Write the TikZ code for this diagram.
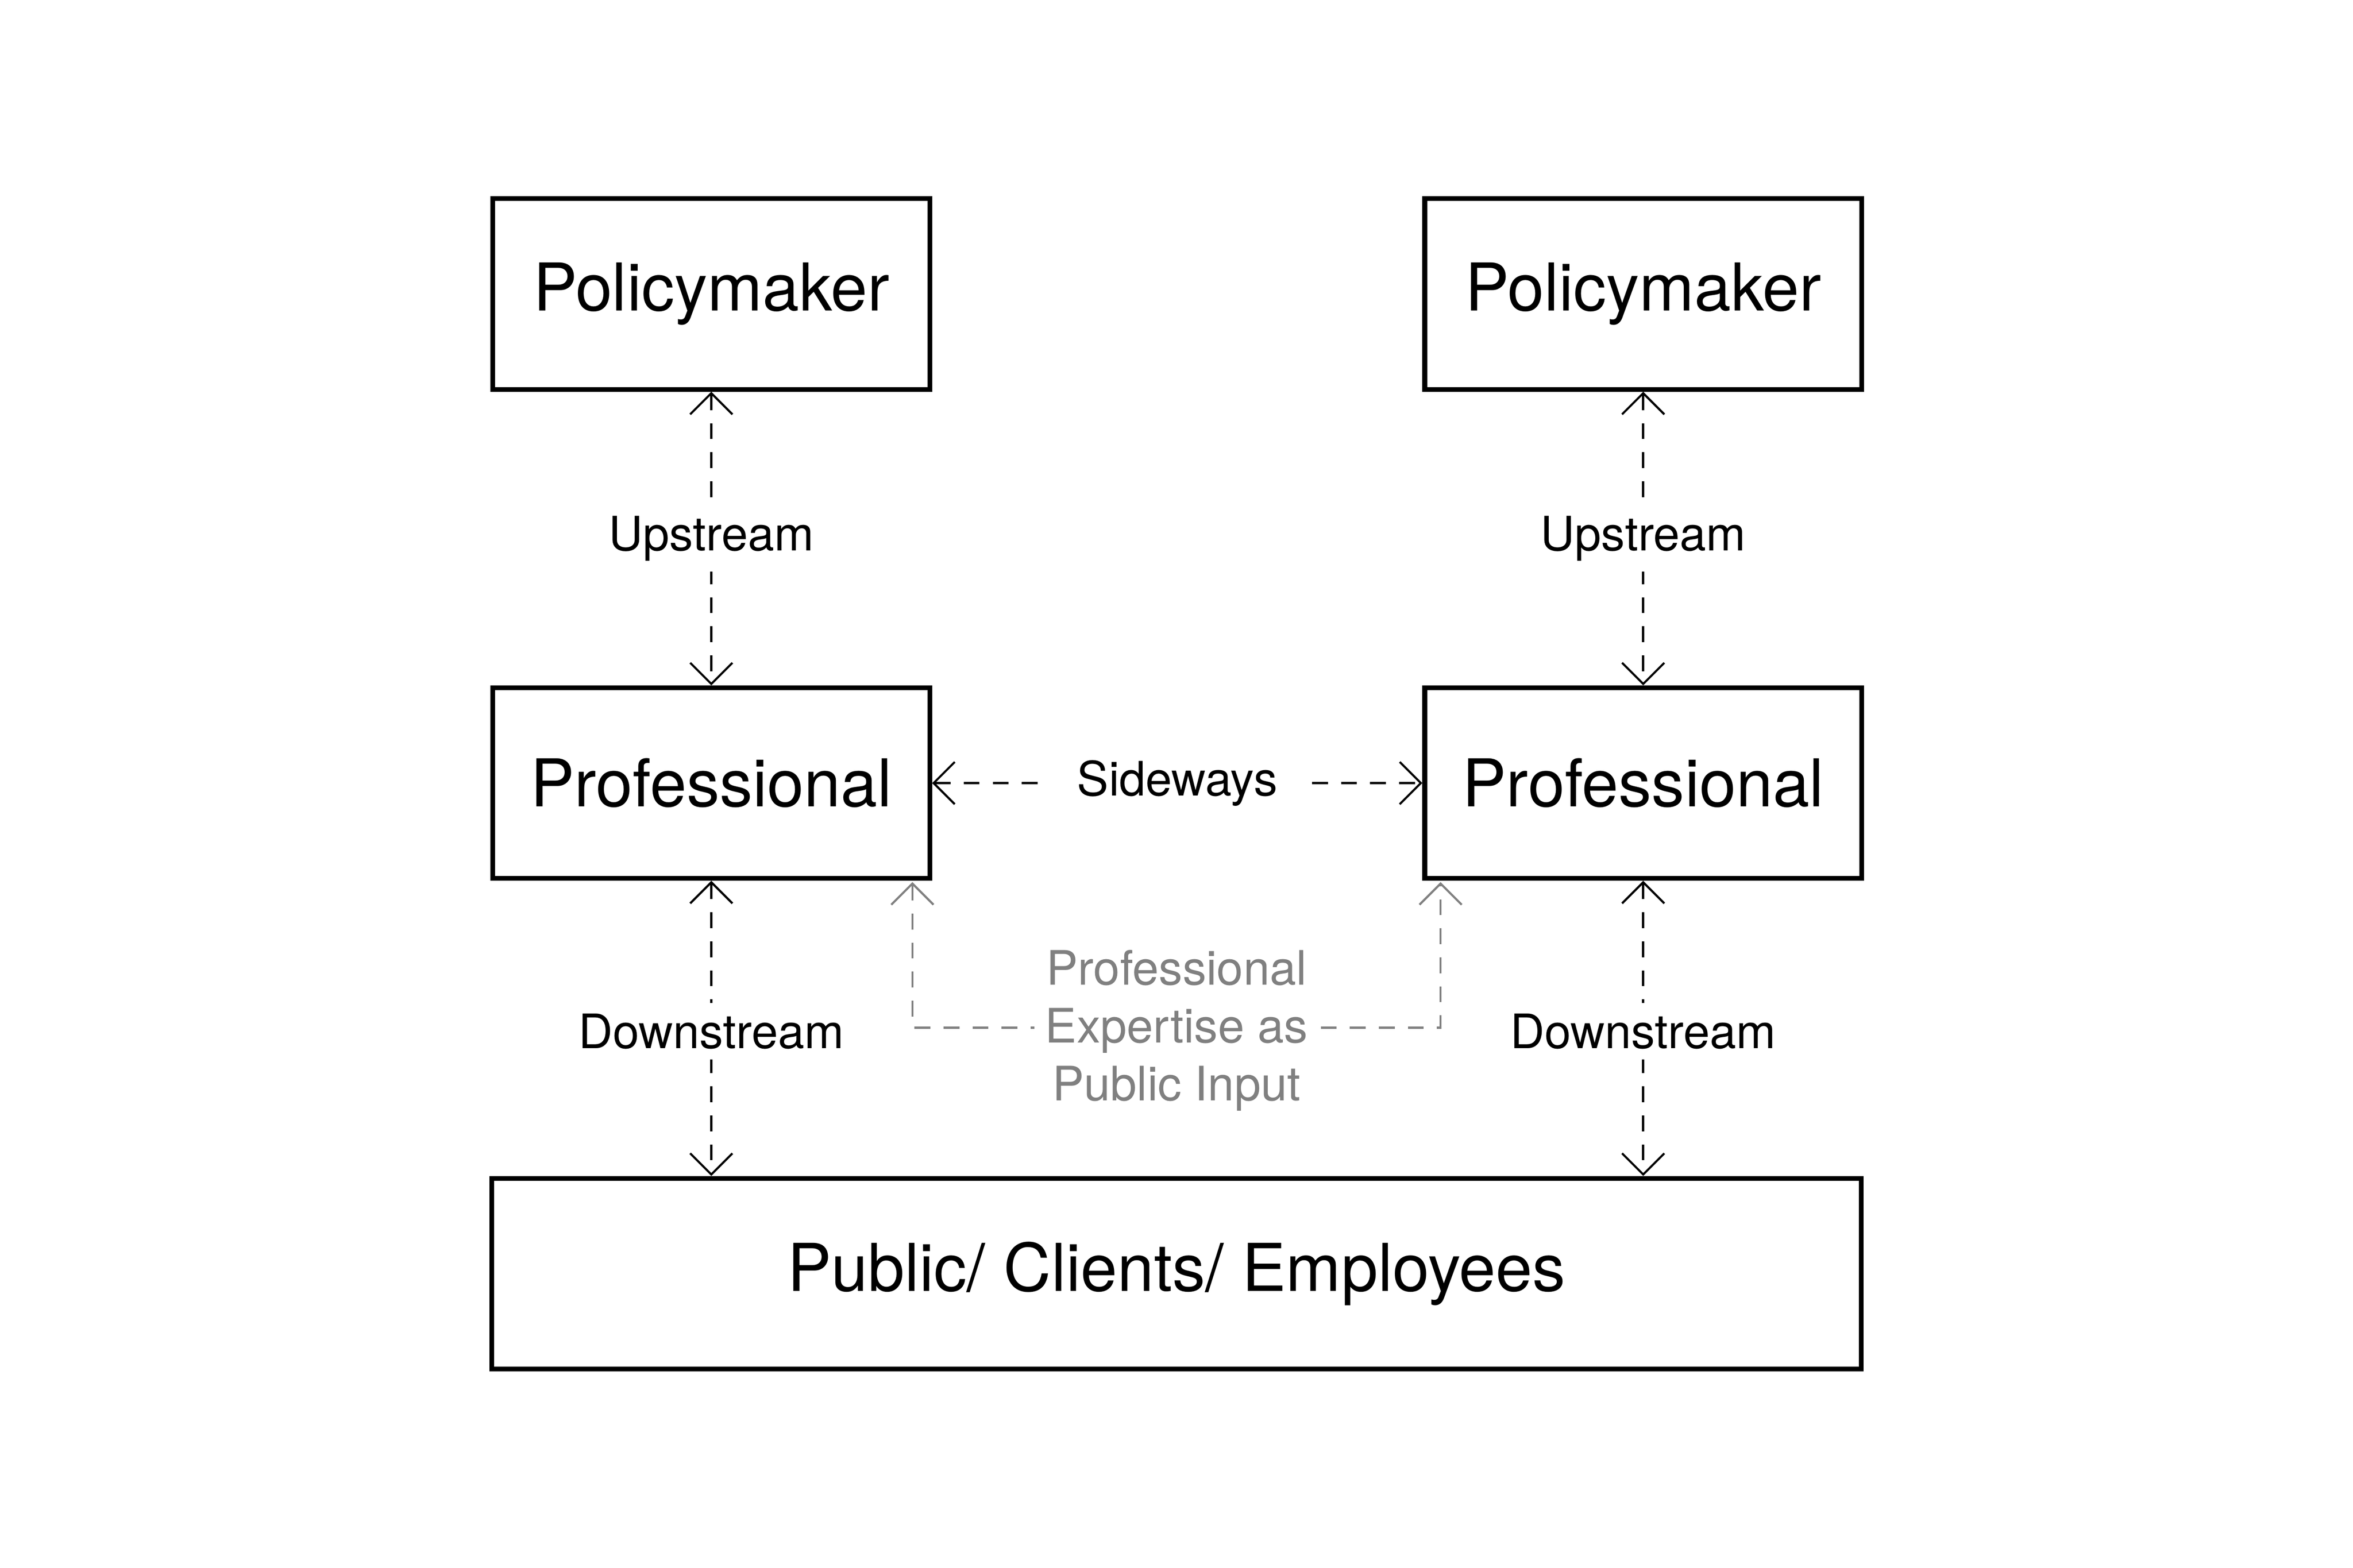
\documentclass[tikz,border=0pt]{standalone}
\usepackage{fontspec}
\setmainfont{TeX Gyre Heros}
\usetikzlibrary{arrows.meta}
\begin{document}
\begin{tikzpicture}[x=0.01cm,y=-0.01cm,
  box/.style={draw,line width=0.9pt,minimum width=2.91cm,minimum height=1.27cm,font=\fontsize{12.5}{14}\selectfont,inner sep=0pt},
  conn/.style={dashed,line width=0.4pt,dash pattern=on 3pt off 2.5pt,{Straight Barb[length=4pt,width=8pt]}-{Straight Barb[length=4pt,width=8pt]}},
  lab/.style={fill=white,font=\fontsize{9}{10.8}\selectfont,inner sep=2pt}]
\useasboundingbox (0,0) rectangle (1568,1045);
\node[box] (pm1) at (474,196) {Policymaker};
\node[box] (pm2) at (1095,196) {Policymaker};
\node[box] (pr1) at (474,522) {Professional};
\node[box] (pr2) at (1095,522) {Professional};
\node[box,minimum width=9.12cm] (pub) at (784,849) {Public/ Clients/ Employees};
\draw[conn] (pm1) -- node[lab]{Upstream} (pr1);
\draw[conn] (pm2) -- node[lab]{Upstream} (pr2);
\draw[conn] (pr1) -- node[lab,pos=0.51]{Downstream} (pub.north -| pr1);
\draw[conn] (pr2) -- node[lab,pos=0.51]{Downstream} (pub.north -| pr2);
\draw[conn] (pr1) -- node[lab,inner xsep=6pt]{Sideways} (pr2);
\coordinate (g1) at (608,588);
\coordinate (g2) at (960,588);
\draw[conn,gray] (g1) -- (608,685) -- (960,685) -- (g2);
\node[lab,text=gray,align=center,font=\fontsize{9}{11}\selectfont] at (784,687) {Professional\\Expertise as\\Public Input};
\end{tikzpicture}
\end{document}
